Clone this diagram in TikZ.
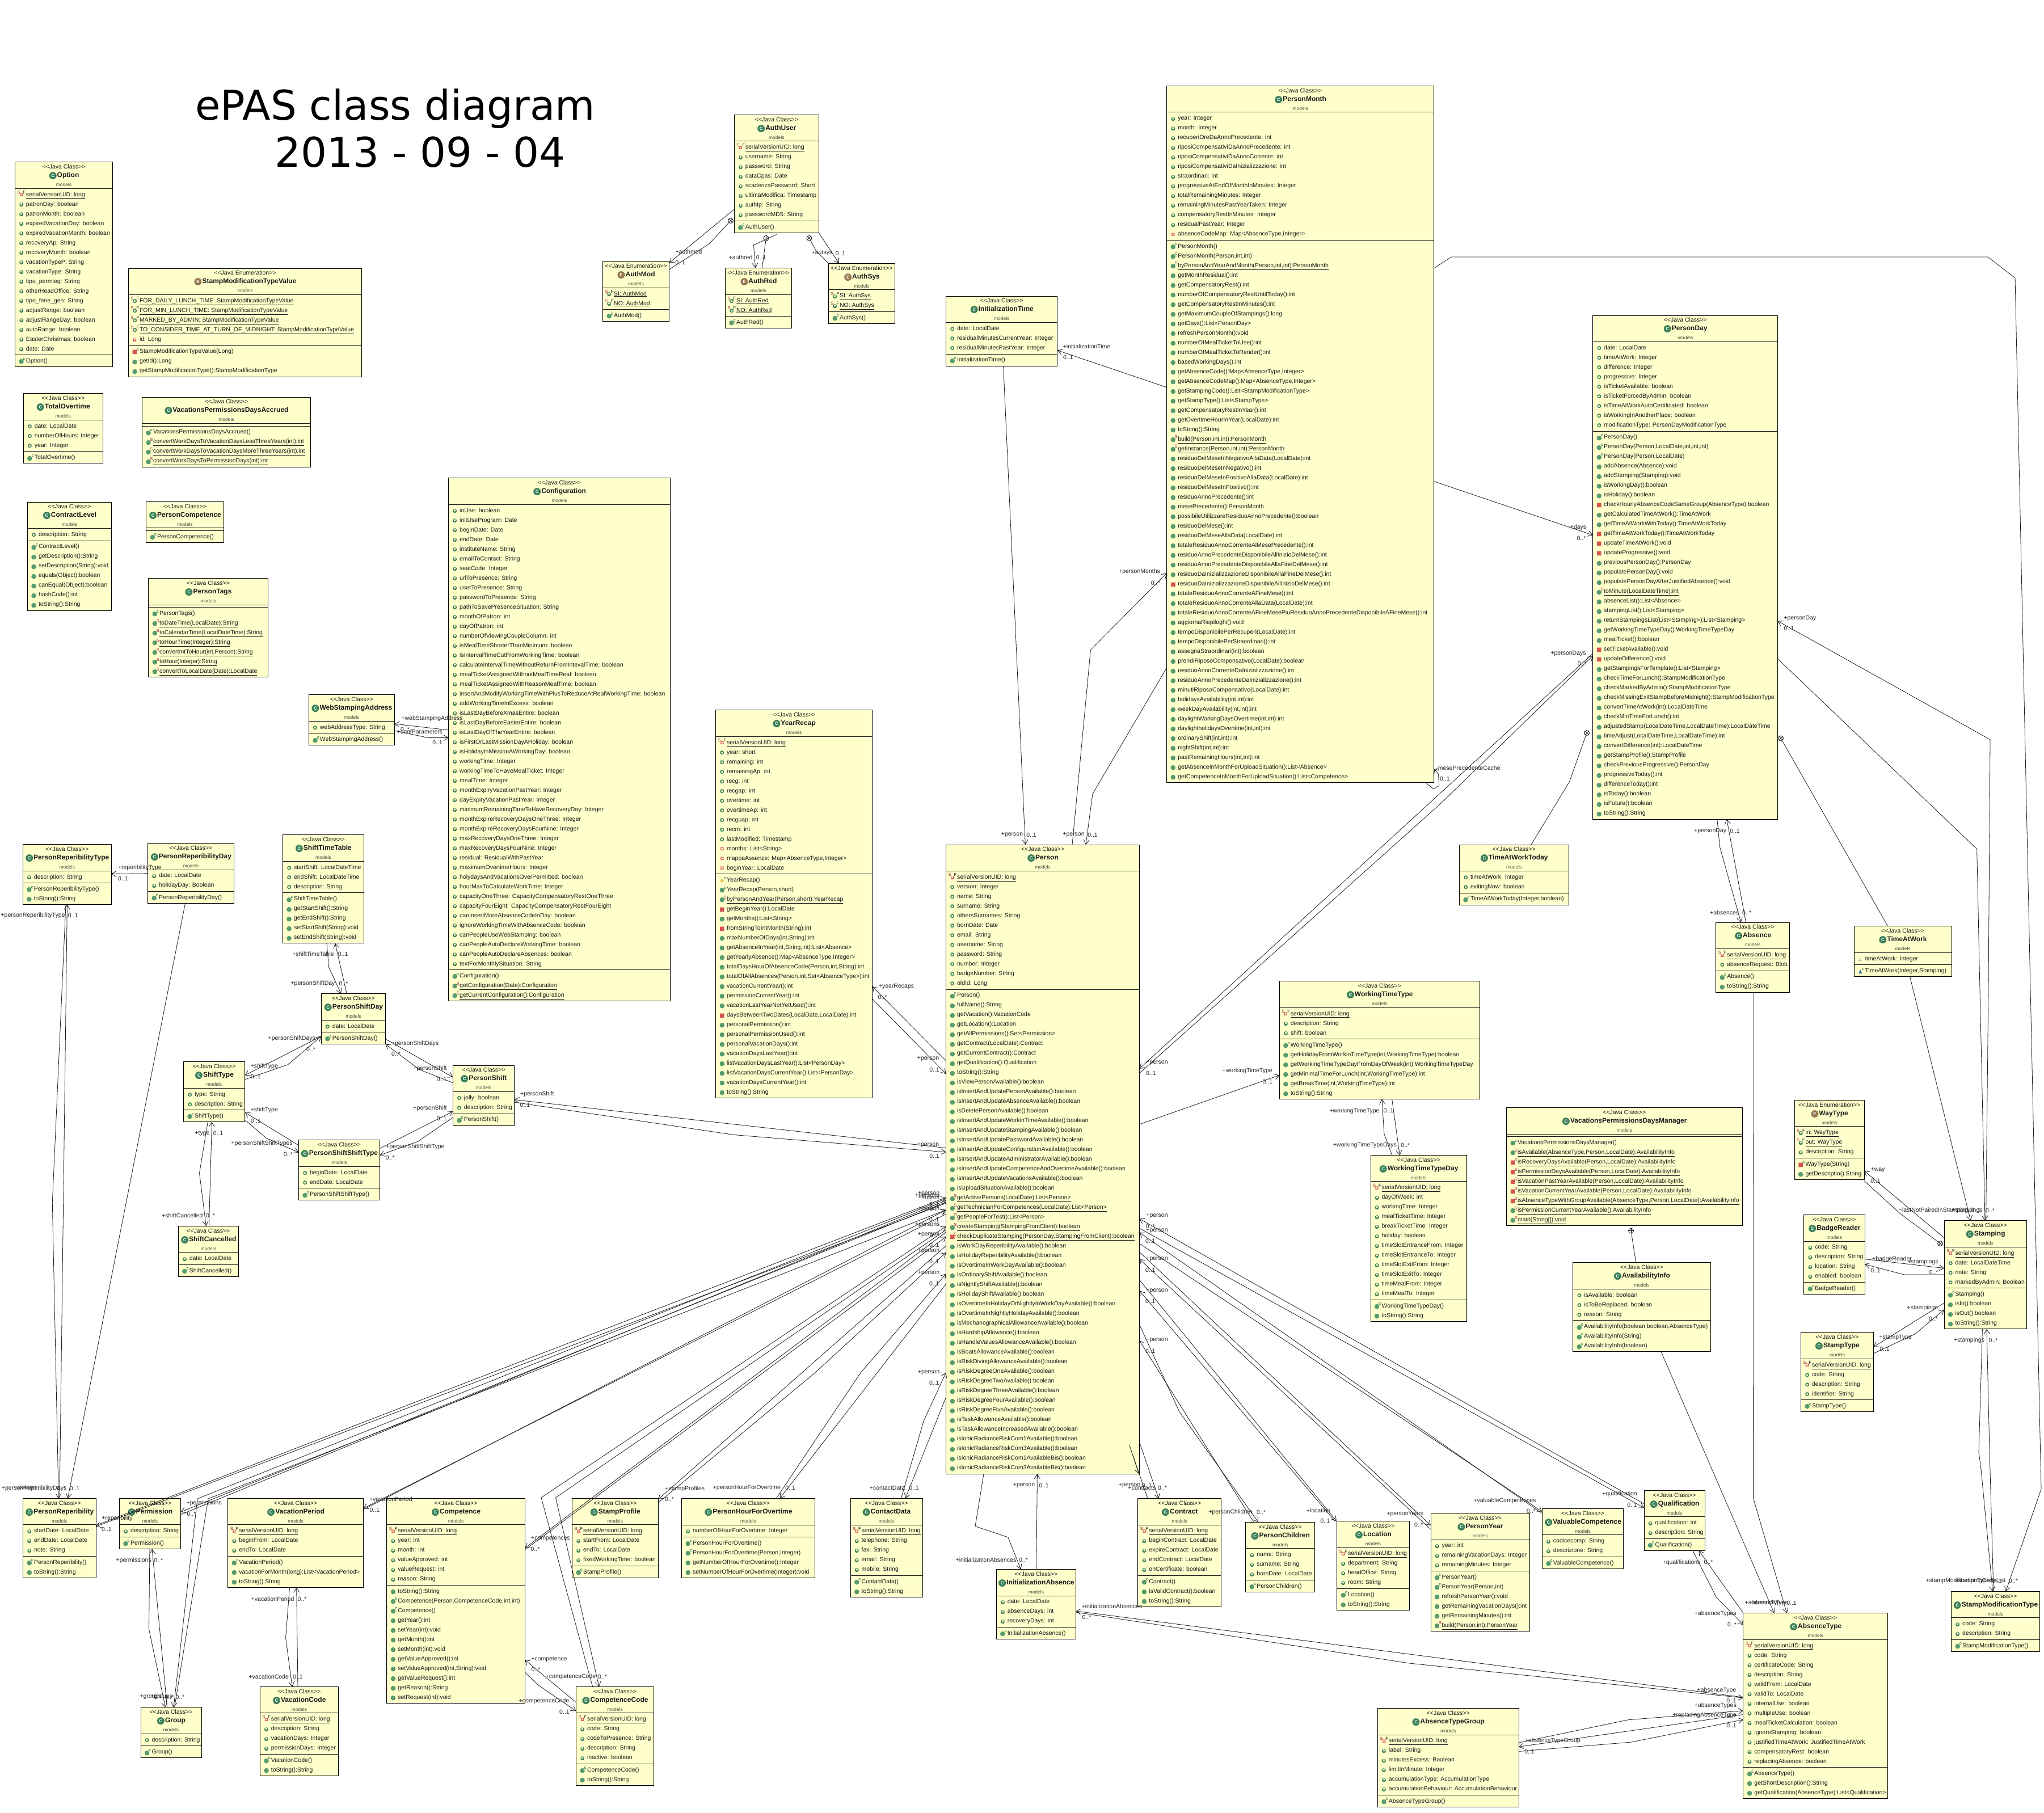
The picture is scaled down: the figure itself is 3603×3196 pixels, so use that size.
\documentclass[tikz,border=0pt]{standalone}
\usepackage{fontspec}
\setmainfont{Liberation Sans}
\newfontfamily\glyphfont{DejaVu Sans}
\newfontfamily\titlefont{DejaVu Sans}
\usetikzlibrary{%
	arrows.meta,%
}
\definecolor{cbox}{RGB}{255, 255, 204}
\definecolor{cfield}{RGB}{58, 128, 88}
\definecolor{cmethod}{RGB}{88, 156, 110}
\definecolor{cprivate}{RGB}{214, 84, 84}
\definecolor{cstatic}{RGB}{150, 30, 60}
\definecolor{cprot}{RGB}{232, 200, 90}
\definecolor{cpack}{RGB}{60, 110, 170}
\definecolor{cenum}{RGB}{150, 118, 78}
\definecolor{cmodels}{RGB}{70, 70, 60}
\tikzset{
	>={Straight Barb[length=8pt,width=10pt]},%
	classnode/.style={%
			fill=cbox,%
			rectangle,%
			draw,%
			line width=1pt,%
			anchor=north west,%
			inner sep=0,%
			outer sep=0,%
			text=black!90,%
			font={\fontsize{10.5}{17}\selectfont}},%
	link/.style={line width=.8pt, black!90},%
	rolelabel/.style={%
			inner sep=0,%
			text=black!85,%
			font={\fontsize{10.5}{12}\selectfont}},%
	nestmark/.style={%
			circle,%
			draw,%
			line width=.8pt,%
			inner sep=0,%
			minimum size=9pt,%
			path picture={\draw[line width=.7pt]
				(path picture bounding box.north west) -- (path picture bounding box.south east)
				(path picture bounding box.north east) -- (path picture bounding box.south west);}},%
	nestplus/.style={%
			circle,%
			draw,%
			line width=.8pt,%
			inner sep=0,%
			minimum size=9pt,%
			path picture={\draw[line width=.7pt]
				(path picture bounding box.north) -- (path picture bounding box.south)
				(path picture bounding box.east) -- (path picture bounding box.west);}},%
}
\setlength{\arrayrulewidth}{1pt}
\newcommand{\symb}[3]{\raisebox{#2}{\glyphfont\fontsize{#1}{#1}\selectfont #3}}
\newcommand{\gring}{\makebox[0pt]{\symb{9}{-.5pt}{\textcolor{cfield}{●}}}\makebox[0pt]{\symb{4.5}{1.1pt}{\textcolor{cbox}{●}}}}
\newcommand{\gdot}{\symb{11}{-1.3pt}{\textcolor{cmethod}{●}}}
\newcommand{\gbox}{\makebox[0pt]{\symb{7}{.3pt}{\textcolor{cprivate}{■}}}\makebox[0pt]{\symb{3.5}{1.5pt}{\textcolor{cbox}{■}}}}
\newcommand{\gsquare}{\symb{10}{-1pt}{\textcolor{cprivate}{■}}}
\newcommand{\gdiamond}{\symb{10}{-1pt}{\textcolor{cprot}{◆}}}
\newcommand{\gtri}{\symb{7}{0pt}{\textcolor{cpack}{△}}}
\newcommand{\gtrifill}{\symb{9}{-.5pt}{\textcolor{cpack}{▲}}}
\newcommand{\rowmark}[3]{\makebox[19.5pt][l]{%
		\rlap{\hspace{11.2pt}\makebox[0pt]{#1}}%
		\rlap{\hspace{6.5pt}\raisebox{4.5pt}{\makebox[0pt]{\fontsize{7.5}{7.5}\selectfont\textcolor{cstatic}{#2}}}}%
		\rlap{\hspace{16.3pt}\raisebox{4.5pt}{\makebox[0pt]{\fontsize{7.5}{7.5}\selectfont #3}}}}}
\newcommand{\fpub}[1]{\mbox{\rowmark{\gring}{}{}#1}\\}
\newcommand{\fpriv}[1]{\mbox{\rowmark{\gbox}{}{}#1}\\}
\newcommand{\fpack}[1]{\mbox{\rowmark{\gtri}{}{}#1}\\}
\newcommand{\fserial}[1]{\mbox{\rowmark{\gbox}{S}{F}\underline{#1}}\\}
\newcommand{\fconst}[1]{\mbox{\rowmark{\gring}{S}{F}\underline{#1}}\\}
\newcommand{\mpub}[1]{\mbox{\rowmark{\gdot}{}{}#1}\\}
\newcommand{\mpriv}[1]{\mbox{\rowmark{\gsquare}{}{}#1}\\}
\newcommand{\mctor}[1]{\mbox{\rowmark{\gdot}{}{\textcolor{cfield}{\bfseries c}}#1}\\}
\newcommand{\mctorpriv}[1]{\mbox{\rowmark{\gsquare}{}{\textcolor{cfield}{\bfseries c}}#1}\\}
\newcommand{\mctorprot}[1]{\mbox{\rowmark{\gdiamond}{}{\textcolor{cfield}{\bfseries c}}#1}\\}
\newcommand{\mctorpack}[1]{\mbox{\rowmark{\gtrifill}{}{\textcolor{cfield}{\bfseries c}}#1}\\}
\newcommand{\mstat}[1]{\mbox{\rowmark{\gdot}{}{\textcolor{cstatic}{S}}\underline{#1}}\\}
\newcommand{\mstatpriv}[1]{\mbox{\rowmark{\gsquare}{}{\textcolor{cstatic}{S}}\underline{#1}}\\}
\newcommand{\headicon}[2]{\makebox[15pt]{\makebox[0pt]{\raisebox{-2pt}{\glyphfont\fontsize{17}{17}\selectfont\textcolor{#1}{●}}}\makebox[0pt]{\fontsize{8}{8}\selectfont\bfseries\textcolor{white}{#2}}}}
\newcommand{\headrows}[4]{%
	\multicolumn{1}{@{}c@{}}{\makebox[0pt]{<{}<Java #1>{}>}}\\[-2pt]
	\multicolumn{1}{@{}c@{}}{\makebox[0pt]{\headicon{#2}{#3}\fontsize{12}{17}\selectfont\textbf{#4}}}\\[-1pt]
	\multicolumn{1}{@{}c@{}}{\makebox[0pt]{\fontsize{8.5}{17}\selectfont\textcolor{cmodels}{models}}}\\[-2pt]}
\newcommand{\javaclass}[1]{\headrows{Class}{cfield}{C}{#1}\hline\noalign{\vskip 1.5pt}}
\newcommand{\javaenum}[1]{\headrows{Enumeration}{cenum}{E}{#1}\hline\noalign{\vskip 1.5pt}}
\newcommand{\secrule}{\noalign{\vskip 2pt}\hline\noalign{\vskip 1.5pt}}
\newcommand{\lastrow}{\noalign{\vskip 2pt}}
\begin{document}
\begin{tikzpicture}[x=1pt, y=-1pt]%
	\useasboundingbox (0,0) rectangle (3603,3196);

	\node[inner sep=0, anchor=base west, font={\titlefont\fontsize{72.3}{80}\selectfont}] (title) at (344,211.6) {ePAS class diagram};
	\node[inner sep=0, anchor=base west, font={\titlefont\fontsize{72.3}{80}\selectfont}] (titledate) at (484,294.5) {2013 - 09 - 04};

	% left column
	\node[classnode] (option) at (26.5,285.6) {\begin{tabular}{@{}p{172pt}@{}}
			\javaclass{Option}
			\fserial{serialVersionUID: long}
			\fpub{patronDay: boolean}
			\fpub{patronMonth: boolean}
			\fpub{expiredVacationDay: boolean}
			\fpub{expiredVacationMonth: boolean}
			\fpub{recoveryAp: String}
			\fpub{recoveryMonth: boolean}
			\fpub{vacationTypeP: String}
			\fpub{vacationType: String}
			\fpub{tipo\_permieg: String}
			\fpub{otherHeadOffice: String}
			\fpub{tipo\_ferie\_gen: String}
			\fpub{adjustRange: boolean}
			\fpub{adjustRangeDay: boolean}
			\fpub{autoRange: boolean}
			\fpub{EasterChristmas: boolean}
			\fpub{date: Date}
			\secrule
			\mctor{Option()}
			\lastrow
		\end{tabular}};

	\node[classnode] (stampvalue) at (226.5,473) {\begin{tabular}{@{}p{411pt}@{}}
			\javaenum{StampModificationTypeValue}
			\fconst{FOR\_DAILY\_LUNCH\_TIME: StampModificationTypeValue}
			\fconst{FOR\_MIN\_LUNCH\_TIME: StampModificationTypeValue}
			\fconst{MARKED\_BY\_ADMIN: StampModificationTypeValue}
			\fconst{TO\_CONSIDER\_TIME\_AT\_TURN\_OF\_MIDNIGHT: StampModificationTypeValue}
			\fpriv{id: Long}
			\secrule
			\mctorpriv{StampModificationTypeValue(Long)}
			\mpub{getId():Long}
			\mpub{getStampModificationType():StampModificationType}
			\lastrow
		\end{tabular}};

	\node[classnode] (totalovertime) at (41.3,693.8) {\begin{tabular}{@{}p{140pt}@{}}
			\javaclass{TotalOvertime}
			\fpub{date: LocalDate}
			\fpub{numberOfHours: Integer}
			\fpub{year: Integer}
			\secrule
			\mctor{TotalOvertime()}
			\lastrow
		\end{tabular}};

	\node[classnode] (daysaccrued) at (250.5,700) {\begin{tabular}{@{}p{297pt}@{}}
			\javaclass{VacationsPermissionsDaysAccrued}
			\secrule
			\mctor{VacationsPermissionsDaysAccrued()}
			\mstat{convertWorkDaysToVacationDaysLessThreeYears(int):int}
			\mstat{convertWorkDaysToVacationDaysMoreThreeYears(int):int}
			\mstat{convertWorkDaysToPermissionDays(int):int}
			\lastrow
		\end{tabular}};

	\node[classnode] (contractlevel) at (48.5,885) {\begin{tabular}{@{}p{148pt}@{}}
			\javaclass{ContractLevel}
			\fpub{description: String}
			\secrule
			\mctor{ContractLevel()}
			\mpub{getDescription():String}
			\mpub{setDescription(String):void}
			\mpub{equals(Object):boolean}
			\mpub{canEqual(Object):boolean}
			\mpub{hashCode():int}
			\mpub{toString():String}
			\lastrow
		\end{tabular}};

	\node[classnode] (personcompetence) at (257.7,884.4) {\begin{tabular}{@{}p{136.7pt}@{}}
			\javaclass{PersonCompetence}
			\secrule
			\mctor{PersonCompetence()}
			\lastrow
		\end{tabular}};

	\node[classnode] (persontags) at (261.7,1019.6) {\begin{tabular}{@{}p{210.7pt}@{}}
			\javaclass{PersonTags}
			\secrule
			\mctor{PersonTags()}
			\mstat{toDateTime(LocalDate):String}
			\mstat{toCalendarTime(LocalDateTime):String}
			\mstat{toHourTime(Integer):String}
			\mstat{convertIntToHour(int,Person):String}
			\mstat{toHour(Integer):String}
			\mstat{convertToLocalDate(Date):LocalDate}
			\lastrow
		\end{tabular}};

	\node[classnode] (webstamping) at (544.4,1224.9) {\begin{tabular}{@{}p{151pt}@{}}
			\javaclass{WebStampingAddress}
			\fpub{webAddressType: String}
			\secrule
			\mctor{WebStampingAddress()}
			\lastrow
		\end{tabular}};

	\node[classnode] (configuration) at (790.7,842.6) {\begin{tabular}{@{}p{390.8pt}@{}}
			\javaclass{Configuration}
			\fpub{inUse: boolean}
			\fpub{initUseProgram: Date}
			\fpub{beginDate: Date}
			\fpub{endDate: Date}
			\fpub{instituteName: String}
			\fpub{emailToContact: String}
			\fpub{seatCode: Integer}
			\fpub{urlToPresence: String}
			\fpub{userToPresence: String}
			\fpub{passwordToPresence: String}
			\fpub{pathToSavePresenceSituation: String}
			\fpub{monthOfPatron: int}
			\fpub{dayOfPatron: int}
			\fpub{numberOfViewingCoupleColumn: int}
			\fpub{isMealTimeShorterThanMinimum: boolean}
			\fpub{isIntervalTimeCutFromWorkingTime: boolean}
			\fpub{calculateIntervalTimeWithoutReturnFromIntevalTime: boolean}
			\fpub{mealTicketAssignedWithoutMealTimeReal: boolean}
			\fpub{mealTicketAssignedWithReasonMealTime: boolean}
			\fpub{insertAndModifyWorkingTimeWithPlusToReduceAtRealWorkingTime: boolean}
			\fpub{addWorkingTimeInExcess: boolean}
			\fpub{isLastDayBeforeXmasEntire: boolean}
			\fpub{isLastDayBeforeEasterEntire: boolean}
			\fpub{isLastDayOfTheYearEntire: boolean}
			\fpub{isFirstOrLastMissionDayAHoliday: boolean}
			\fpub{isHolidayInMissionAWorkingDay: boolean}
			\fpub{workingTime: Integer}
			\fpub{workingTimeToHaveMealTicket: Integer}
			\fpub{mealTime: Integer}
			\fpub{monthExpiryVacationPastYear: Integer}
			\fpub{dayExpiryVacationPastYear: Integer}
			\fpub{minimumRemainingTimeToHaveRecoveryDay: Integer}
			\fpub{monthExpireRecoveryDaysOneThree: Integer}
			\fpub{monthExpireRecoveryDaysFourNine: Integer}
			\fpub{maxRecoveryDaysOneThree: Integer}
			\fpub{maxRecoveryDaysFourNine: Integer}
			\fpub{residual: ResidualWithPastYear}
			\fpub{maximumOvertimeHours: Integer}
			\fpub{holydaysAndVacationsOverPermitted: boolean}
			\fpub{hourMaxToCalculateWorkTime: Integer}
			\fpub{capacityOneThree: CapacityCompensatoryRestOneThree}
			\fpub{capacityFourEight: CapacityCompensatoryRestFourEight}
			\fpub{canInsertMoreAbsenceCodeInDay: boolean}
			\fpub{ignoreWorkingTimeWithAbsenceCode: boolean}
			\fpub{canPeopleUseWebStamping: boolean}
			\fpub{canPeopleAutoDeclareWorkingTime: boolean}
			\fpub{canPeopleAutoDeclareAbsences: boolean}
			\fpub{textForMonthlySituation: String}
			\secrule
			\mctor{Configuration()}
			\mstat{getConfiguration(Date):Configuration}
			\mstat{getCurrentConfiguration():Configuration}
			\lastrow
		\end{tabular}};

	% auth group
	\node[classnode] (authuser) at (1294.3,202.3) {\begin{tabular}{@{}p{149pt}@{}}
			\javaclass{AuthUser}
			\fserial{serialVersionUID: long}
			\fpub{username: String}
			\fpub{password: String}
			\fpub{dataCpas: Date}
			\fpub{scadenzaPassword: Short}
			\fpub{ultimaModifica: Timestamp}
			\fpub{authIp: String}
			\fpub{passwordMD5: String}
			\secrule
			\mctor{AuthUser()}
			\lastrow
		\end{tabular}};

	\node[classnode] (authmod) at (1062.7,460.6) {\begin{tabular}{@{}p{116.8pt}@{}}
			\javaenum{AuthMod}
			\fconst{SI: AuthMod}
			\fconst{NO: AuthMod}
			\secrule
			\mctor{AuthMod()}
			\lastrow
		\end{tabular}};

	\node[classnode] (authred) at (1278.5,472.7) {\begin{tabular}{@{}p{116.8pt}@{}}
			\javaenum{AuthRed}
			\fconst{SI: AuthRed}
			\fconst{NO: AuthRed}
			\secrule
			\mctor{AuthRed()}
			\lastrow
		\end{tabular}};

	\node[classnode] (authsys) at (1460.6,464.4) {\begin{tabular}{@{}p{116.8pt}@{}}
			\javaenum{AuthSys}
			\fconst{SI: AuthSys}
			\fconst{NO: AuthSys}
			\secrule
			\mctor{AuthSys()}
			\lastrow
		\end{tabular}};

	\node[classnode] (initializationtime) at (1667.6,522) {\begin{tabular}{@{}p{196.3pt}@{}}
			\javaclass{InitializationTime}
			\fpub{date: LocalDate}
			\fpub{residualMinutesCurrentYear: Integer}
			\fpub{residualMinutesPastYear: Integer}
			\secrule
			\mctor{InitializationTime()}
			\lastrow
		\end{tabular}};

	\node[classnode] (personmonth) at (2056.8,151.4) {\begin{tabular}{@{}p{470.7pt}@{}}
			\javaclass{PersonMonth}
			\fpub{year: Integer}
			\fpub{month: Integer}
			\fpub{recuperiOreDaAnnoPrecedente: int}
			\fpub{riposiCompensativiDaAnnoPrecedente: int}
			\fpub{riposiCompensativiDaAnnoCorrente: int}
			\fpub{riposiCompensativiDaInizializzazione: int}
			\fpub{straordinari: int}
			\fpub{progressiveAtEndOfMonthInMinutes: Integer}
			\fpub{totalRemainingMinutes: Integer}
			\fpub{remainingMinutesPastYearTaken: Integer}
			\fpub{compensatoryRestInMinutes: Integer}
			\fpub{residualPastYear: Integer}
			\fpriv{absenceCodeMap: Map<AbsenceType,Integer>}
			\secrule
			\mctor{PersonMonth()}
			\mctor{PersonMonth(Person,int,int)}
			\mstat{byPersonAndYearAndMonth(Person,int,int):PersonMonth}
			\mpub{getMonthResidual():int}
			\mpub{getCompensatoryRest():int}
			\mpub{numberOfCompensatoryRestUntilToday():int}
			\mpub{getCompensatoryRestInMinutes():int}
			\mpub{getMaximumCoupleOfStampings():long}
			\mpub{getDays():List<PersonDay>}
			\mpub{refreshPersonMonth():void}
			\mpub{numberOfMealTicketToUse():int}
			\mpub{numberOfMealTicketToRender():int}
			\mpub{basedWorkingDays():int}
			\mpub{getAbsenceCode():Map<AbsenceType,Integer>}
			\mpub{getAbsenceCodeMap():Map<AbsenceType,Integer>}
			\mpub{getStampingCode():List<StampModificationType>}
			\mpub{getStampType():List<StampType>}
			\mpub{getCompensatoryRestInYear():int}
			\mpub{getOvertimeHourInYear(LocalDate):int}
			\mpub{toString():String}
			\mstat{build(Person,int,int):PersonMonth}
			\mstat{getInstance(Person,int,int):PersonMonth}
			\mpub{residuoDelMeseInNegativoAllaData(LocalDate):int}
			\mpub{residuoDelMeseInNegativo():int}
			\mpub{residuoDelMeseInPositivoAllaData(LocalDate):int}
			\mpub{residuoDelMeseInPositivo():int}
			\mpub{residuoAnnoPrecedente():int}
			\mpub{mesePrecedente():PersonMonth}
			\mpub{possibileUtilizzareResiduoAnnoPrecedente():boolean}
			\mpub{residuoDelMese():int}
			\mpub{residuoDelMeseAllaData(LocalDate):int}
			\mpub{totaleResiduoAnnoCorrenteAlMesePrecedente():int}
			\mpub{residuoAnnoPrecedenteDisponibileAllInizioDelMese():int}
			\mpub{residuoAnnoPrecedenteDisponibileAllaFineDelMese():int}
			\mpub{residuoDaInizializzazioneDisponibileAllaFineDelMese():int}
			\mpriv{residuoDaInizializzazioneDisponibileAllInizioDelMese():int}
			\mpub{totaleResiduoAnnoCorrenteAFineMese():int}
			\mpub{totaleResiduoAnnoCorrenteAllaData(LocalDate):int}
			\mpub{totaleResiduoAnnoCorrenteAFineMesePiuResiduoAnnoPrecedenteDisponibileAFineMese():int}
			\mpub{aggiornaRiepiloghi():void}
			\mpub{tempoDisponibilePerRecuperi(LocalDate):int}
			\mpub{tempoDisponibilePerStraordinari():int}
			\mpub{assegnaStraordinari(int):boolean}
			\mpub{prendiRiposoCompensativo(LocalDate):boolean}
			\mpub{residuoAnnoCorrenteDaInizializzazione():int}
			\mpub{residuoAnnoPrecedenteDaInizializzazione():int}
			\mpub{minutiRiposoCompensativo(LocalDate):int}
			\mpub{holidaysAvailability(int,int):int}
			\mpub{weekDayAvailability(int,int):int}
			\mpub{daylightWorkingDaysOvertime(int,int):int}
			\mpub{daylightholidaysOvertime(int,int):int}
			\mpub{ordinaryShift(int,int):int}
			\mpub{nightShift(int,int):int}
			\mpub{pastRemainingHours(int,int):int}
			\mpub{getAbsenceInMonthForUploadSituation():List<Absence>}
			\mpub{getCompetenceInMonthForUploadSituation():List<Competence>}
			\lastrow
		\end{tabular}};

	\node[classnode] (personday) at (2807.7,556) {\begin{tabular}{@{}p{325.9pt}@{}}
			\javaclass{PersonDay}
			\fpub{date: LocalDate}
			\fpub{timeAtWork: Integer}
			\fpub{difference: Integer}
			\fpub{progressive: Integer}
			\fpub{isTicketAvailable: boolean}
			\fpub{isTicketForcedByAdmin: boolean}
			\fpub{isTimeAtWorkAutoCertificated: boolean}
			\fpub{isWorkingInAnotherPlace: boolean}
			\fpub{modificationType: PersonDayModificationType}
			\secrule
			\mctor{PersonDay()}
			\mctor{PersonDay(Person,LocalDate,int,int,int)}
			\mctor{PersonDay(Person,LocalDate)}
			\mpub{addAbsence(Absence):void}
			\mpub{addStamping(Stamping):void}
			\mpub{isWorkingDay():boolean}
			\mpub{isHoliday():boolean}
			\mpriv{checkHourlyAbsenceCodeSameGroup(AbsenceType):boolean}
			\mpub{getCalculatedTimeAtWork():TimeAtWork}
			\mpub{getTimeAtWorkWithToday():TimeAtWorkToday}
			\mpriv{getTimeAtWorkToday():TimeAtWorkToday}
			\mpriv{updateTimeAtWork():void}
			\mpriv{updateProgressive():void}
			\mpub{previousPersonDay():PersonDay}
			\mpub{populatePersonDay():void}
			\mpub{populatePersonDayAfterJustifiedAbsence():void}
			\mstat{toMinute(LocalDateTime):int}
			\mpub{absenceList():List<Absence>}
			\mpub{stampingList():List<Stamping>}
			\mpub{returnStampingsList(List<Stamping>):List<Stamping>}
			\mpub{getWorkingTimeTypeDay():WorkingTimeTypeDay}
			\mpub{mealTicket():boolean}
			\mpriv{setTicketAvailable():void}
			\mpriv{updateDifference():void}
			\mpub{getStampingsForTemplate():List<Stamping>}
			\mpub{checkTimeForLunch():StampModificationType}
			\mpub{checkMarkedByAdmin():StampModificationType}
			\mpub{checkMissingExitStampBeforeMidnight():StampModificationType}
			\mpub{convertTimeAtWork(int):LocalDateTime}
			\mpub{checkMinTimeForLunch():int}
			\mpub{adjustedStamp(LocalDateTime,LocalDateTime):LocalDateTime}
			\mpub{timeAdjust(LocalDateTime,LocalDateTime):int}
			\mpub{convertDifference(int):LocalDateTime}
			\mpub{getStampProfile():StampProfile}
			\mpub{checkPreviousProgressive():PersonDay}
			\mpub{progressiveToday():int}
			\mpub{differenceToday():int}
			\mpub{isToday():boolean}
			\mpub{isFuture():boolean}
			\mpub{toString():String}
			\lastrow
		\end{tabular}};

	\node[classnode] (timeatworktoday) at (2572.5,1489) {\begin{tabular}{@{}p{192.5pt}@{}}
			\javaclass{TimeAtWorkToday}
			\fpub{timeAtWork: Integer}
			\fpub{exitingNow: boolean}
			\secrule
			\mctor{TimeAtWorkToday(Integer,boolean)}
			\lastrow
		\end{tabular}};

	\node[classnode] (absence) at (3024.8,1626) {\begin{tabular}{@{}p{129.8pt}@{}}
			\javaclass{Absence}
			\fserial{serialVersionUID: long}
			\fpub{absenceRequest: Blob}
			\secrule
			\mctor{Absence()}
			\mpub{toString():String}
			\lastrow
		\end{tabular}};

	\node[classnode] (timeatwork) at (3268,1632.8) {\begin{tabular}{@{}p{172pt}@{}}
			\javaclass{TimeAtWork}
			\fpack{timeAtWork: Integer}
			\secrule
			\mctorpack{TimeAtWork(Integer,Stamping)}
			\lastrow
		\end{tabular}};

	% shifts and reperibility
	\node[classnode] (reperibilitytype) at (40.3,1488.6) {\begin{tabular}{@{}p{156pt}@{}}
			\javaclass{PersonReperibilityType}
			\fpub{description: String}
			\secrule
			\mctor{PersonReperibilityType()}
			\mpub{toString():String}
			\lastrow
		\end{tabular}};

	\node[classnode] (reperibilityday) at (260.7,1486.5) {\begin{tabular}{@{}p{151.5pt}@{}}
			\javaclass{PersonReperibilityDay}
			\fpub{date: LocalDate}
			\fpub{holidayDay: Boolean}
			\secrule
			\mctor{PersonReperibilityDay()}
			\lastrow
		\end{tabular}};

	\node[classnode] (shifttimetable) at (498.5,1471.8) {\begin{tabular}{@{}p{142.8pt}@{}}
			\javaclass{ShiftTimeTable}
			\fpub{startShift: LocalDateTime}
			\fpub{endShift: LocalDateTime}
			\fpub{description: String}
			\secrule
			\mctor{ShiftTimeTable()}
			\mpub{getStartShift():String}
			\mpub{getEndShift():String}
			\mpub{setStartShift(String):void}
			\mpub{setEndShift(String):void}
			\lastrow
		\end{tabular}};

	\node[classnode] (personshiftday) at (566.3,1751.7) {\begin{tabular}{@{}p{113.3pt}@{}}
			\javaclass{PersonShiftDay}
			\fpub{date: LocalDate}
			\secrule
			\mctor{PersonShiftDay()}
			\lastrow
		\end{tabular}};

	\node[classnode] (shifttype) at (323.5,1871.7) {\begin{tabular}{@{}p{108.1pt}@{}}
			\javaclass{ShiftType}
			\fpub{type: String}
			\fpub{description: String}
			\secrule
			\mctor{ShiftType()}
			\lastrow
		\end{tabular}};

	\node[classnode] (shiftshifttype) at (526.5,2009.9) {\begin{tabular}{@{}p{142.9pt}@{}}
			\javaclass{PersonShiftShiftType}
			\fpub{beginDate: LocalDate}
			\fpub{endDate: LocalDate}
			\secrule
			\mctor{PersonShiftShiftType()}
			\lastrow
		\end{tabular}};

	\node[classnode] (shiftcancelled) at (314.3,2161.4) {\begin{tabular}{@{}p{106.1pt}@{}}
			\javaclass{ShiftCancelled}
			\fpub{date: LocalDate}
			\secrule
			\mctor{ShiftCancelled()}
			\lastrow
		\end{tabular}};

	\node[classnode] (personshift) at (798.4,1878) {\begin{tabular}{@{}p{108.1pt}@{}}
			\javaclass{PersonShift}
			\fpub{jolly: boolean}
			\fpub{description: String}
			\secrule
			\mctor{PersonShift()}
			\lastrow
		\end{tabular}};

	\node[classnode] (yearrecap) at (1261.6,1251.7) {\begin{tabular}{@{}p{276.1pt}@{}}
			\javaclass{YearRecap}
			\fserial{serialVersionUID: long}
			\fpub{year: short}
			\fpub{remaining: int}
			\fpub{remainingAp: int}
			\fpub{recg: int}
			\fpub{recgap: int}
			\fpub{overtime: int}
			\fpub{overtimeAp: int}
			\fpub{recguap: int}
			\fpub{recm: int}
			\fpub{lastModified: Timestamp}
			\fpriv{months: List<String>}
			\fpriv{mappaAssenze: Map<AbsenceType,Integer>}
			\fpriv{beginYear: LocalDate}
			\secrule
			\mctorprot{YearRecap()}
			\mctor{YearRecap(Person,short)}
			\mstat{byPersonAndYear(Person,short):YearRecap}
			\mpriv{getBeginYear():LocalDate}
			\mpub{getMonths():List<String>}
			\mpriv{fromStringToIntMonth(String):int}
			\mpub{maxNumberOfDays(int,String):int}
			\mpub{getAbsenceInYear(int,String,int):List<Absence>}
			\mpub{getYearlyAbsence():Map<AbsenceType,Integer>}
			\mpub{totalDaysHourOfAbsenceCode(Person,int,String):int}
			\mpub{totalOfAllAbsences(Person,int,Set<AbsenceType>):int}
			\mpub{vacationCurrentYear():int}
			\mpub{permissionCurrentYear():int}
			\mpub{vacationLastYearNotYetUsed():int}
			\mpriv{daysBetweenTwoDates(LocalDate,LocalDate):int}
			\mpub{personalPermission():int}
			\mpub{personalPermissionUsed():int}
			\mpub{personalVacationDays():int}
			\mpub{vacationDaysLastYear():int}
			\mpub{listVacationDaysLastYear():List<PersonDay>}
			\mpub{listVacationDaysCurrentYear():List<PersonDay>}
			\mpub{vacationDaysCurrentYear():int}
			\mpub{toString():String}
			\lastrow
		\end{tabular}};

	% person
	\node[classnode] (person) at (1667.6,1489) {\begin{tabular}{@{}p{340.8pt}@{}}
			\javaclass{Person}
			\fserial{serialVersionUID: long}
			\fpub{version: Integer}
			\fpub{name: String}
			\fpub{surname: String}
			\fpub{othersSurnames: String}
			\fpub{bornDate: Date}
			\fpub{email: String}
			\fpub{username: String}
			\fpub{password: String}
			\fpub{number: Integer}
			\fpub{badgeNumber: String}
			\fpub{oldId: Long}
			\secrule
			\mctor{Person()}
			\mpub{fullName():String}
			\mpub{getVacation():VacationCode}
			\mpub{getLocation():Location}
			\mpub{getAllPermissions():Set<Permission>}
			\mpub{getContract(LocalDate):Contract}
			\mpub{getCurrentContract():Contract}
			\mpub{getQualification():Qualification}
			\mpub{toString():String}
			\mpub{isViewPersonAvailable():boolean}
			\mpub{isInsertAndUpdatePersonAvailable():boolean}
			\mpub{isInsertAndUpdateAbsenceAvailable():boolean}
			\mpub{isDeletePersonAvailable():boolean}
			\mpub{isInsertAndUpdateWorkinTimeAvailable():boolean}
			\mpub{isInsertAndUpdateStampingAvailable():boolean}
			\mpub{isInsertAndUpdatePasswordAvailable():boolean}
			\mpub{isInsertAndUpdateConfigurationAvailable():boolean}
			\mpub{isInsertAndUpdateAdministratorAvailable():boolean}
			\mpub{isInsertAndUpdateCompetenceAndOvertimeAvailable():boolean}
			\mpub{isInsertAndUpdateVacationsAvailable():boolean}
			\mpub{isUploadSituationAvailable():boolean}
			\mstat{getActivePersons(LocalDate):List<Person>}
			\mstat{getTechnicianForCompetences(LocalDate):List<Person>}
			\mstat{getPeopleForTest():List<Person>}
			\mstat{createStamping(StampingFromClient):boolean}
			\mstatpriv{checkDuplicateStamping(PersonDay,StampingFromClient):boolean}
			\mpub{isWorkDayReperibilityAvailable():boolean}
			\mpub{isHolidayReperibilityAvailable():boolean}
			\mpub{isOvertimeInWorkDayAvailable():boolean}
			\mpub{isOrdinaryShiftAvailable():boolean}
			\mpub{isNightlyShiftAvailable():boolean}
			\mpub{isHolidayShiftAvailable():boolean}
			\mpub{isOvertimeInHolidayOrNightlyInWorkDayAvailable():boolean}
			\mpub{isOvertimeInNightlyHolidayAvailable():boolean}
			\mpub{isMechanographicalAllowanceAvailable():boolean}
			\mpub{isHardshipAllowance():boolean}
			\mpub{isHandleValuesAllowanceAvailable():boolean}
			\mpub{isBoatsAllowanceAvailable():boolean}
			\mpub{isRiskDivingAllowanceAvailable():boolean}
			\mpub{isRiskDegreeOneAvailable():boolean}
			\mpub{isRiskDegreeTwoAvailable():boolean}
			\mpub{isRiskDegreeThreeAvailable():boolean}
			\mpub{isRiskDegreeFourAvailable():boolean}
			\mpub{isRiskDegreeFiveAvailable():boolean}
			\mpub{isTaskAllowanceAvailable():boolean}
			\mpub{isTaskAllowanceIncreasedAvailable():boolean}
			\mpub{isIonicRadianceRiskCom1Available():boolean}
			\mpub{isIonicRadianceRiskCom3Available():boolean}
			\mpub{isIonicRadianceRiskCom1AvailableBis():boolean}
			\mpub{isIonicRadianceRiskCom3AvailableBis():boolean}
			\lastrow
		\end{tabular}};

	\node[classnode] (workingtimetype) at (2255.3,1729.6) {\begin{tabular}{@{}p{352.9pt}@{}}
			\javaclass{WorkingTimeType}
			\fserial{serialVersionUID: long}
			\fpub{description: String}
			\fpub{shift: boolean}
			\secrule
			\mctor{WorkingTimeType()}
			\mpub{getHolidayFromWorkinTimeType(int,WorkingTimeType):boolean}
			\mpub{getWorkingTimeTypeDayFromDayOfWeek(int):WorkingTimeTypeDay}
			\mpub{getMinimalTimeForLunch(int,WorkingTimeType):int}
			\mpub{getBreakTime(int,WorkingTimeType):int}
			\mpub{toString():String}
			\lastrow
		\end{tabular}};

	\node[classnode] (workingtimetypeday) at (2416,2036.4) {\begin{tabular}{@{}p{169.2pt}@{}}
			\javaclass{WorkingTimeTypeDay}
			\fserial{serialVersionUID: long}
			\fpub{dayOfWeek: int}
			\fpub{workingTime: Integer}
			\fpub{mealTicketTime: Integer}
			\fpub{breakTicketTime: Integer}
			\fpub{holiday: boolean}
			\fpub{timeSlotEntranceFrom: Integer}
			\fpub{timeSlotEntranceTo: Integer}
			\fpub{timeSlotExitFrom: Integer}
			\fpub{timeSlotExitTo: Integer}
			\fpub{timeMealFrom: Integer}
			\fpub{timeMealTo: Integer}
			\secrule
			\mctor{WorkingTimeTypeDay()}
			\mpub{toString():String}
			\lastrow
		\end{tabular}};

	\node[classnode] (daysmanager) at (2655.6,1952.6) {\begin{tabular}{@{}p{415.4pt}@{}}
			\javaclass{VacationsPermissionsDaysManager}
			\secrule
			\mctor{VacationsPermissionsDaysManager()}
			\mstat{isAvailable(AbsenceType,Person,LocalDate):AvailabilityInfo}
			\mstatpriv{isRecoveryDaysAvailable(Person,LocalDate):AvailabilityInfo}
			\mstatpriv{isPermissionDaysAvailable(Person,LocalDate):AvailabilityInfo}
			\mstatpriv{isVacationPastYearAvailable(Person,LocalDate):AvailabilityInfo}
			\mstatpriv{isVacationCurrentYearAvailable(Person,LocalDate):AvailabilityInfo}
			\mstatpriv{isAbsenceTypeWithGroupAvailable(AbsenceType,Person,LocalDate):AvailabilityInfo}
			\mstat{isPermissionCurrentYearAvailable():AvailabilityInfo}
			\mstat{main(String[]):void}
			\lastrow
		\end{tabular}};

	\node[classnode] (availabilityinfo) at (2772.7,2225.8) {\begin{tabular}{@{}p{242.6pt}@{}}
			\javaclass{AvailabilityInfo}
			\fpub{isAvailable: boolean}
			\fpub{isToBeReplaced: boolean}
			\fpub{reason: String}
			\secrule
			\mctor{AvailabilityInfo(boolean,boolean,AbsenceType)}
			\mctor{AvailabilityInfo(String)}
			\mctor{AvailabilityInfo(boolean)}
			\lastrow
		\end{tabular}};

	\node[classnode] (waytype) at (3163,1939.4) {\begin{tabular}{@{}p{123.2pt}@{}}
			\javaenum{WayType}
			\fconst{in: WayType}
			\fconst{out: WayType}
			\fpub{description: String}
			\secrule
			\mctorpriv{WayType(String)}
			\mpub{getDescriptio():String}
			\lastrow
		\end{tabular}};

	\node[classnode] (badgereader) at (3179.8,2141.5) {\begin{tabular}{@{}p{107.2pt}@{}}
			\javaclass{BadgeReader}
			\fpub{code: String}
			\fpub{description: String}
			\fpub{location: String}
			\fpub{enabled: boolean}
			\secrule
			\mctor{BadgeReader()}
			\lastrow
		\end{tabular}};

	\node[classnode] (stamping) at (3427,2151.8) {\begin{tabular}{@{}p{145.4pt}@{}}
			\javaclass{Stamping}
			\fserial{serialVersionUID: long}
			\fpub{date: LocalDateTime}
			\fpub{note: String}
			\fpub{markedByAdmin: Boolean}
			\secrule
			\mctor{Stamping()}
			\mpub{isIn():boolean}
			\mpub{isOut():boolean}
			\mpub{toString():String}
			\lastrow
		\end{tabular}};

	\node[classnode] (stamptype) at (3174.5,2348.7) {\begin{tabular}{@{}p{127.8pt}@{}}
			\javaclass{StampType}
			\fserial{serialVersionUID: long}
			\fpub{code: String}
			\fpub{description: String}
			\fpub{identifier: String}
			\secrule
			\mctor{StampType()}
			\lastrow
		\end{tabular}};

	% bottom row
	\node[classnode] (reperibility) at (40.6,2641.4) {\begin{tabular}{@{}p{128.4pt}@{}}
			\javaclass{PersonReperibility}
			\fpub{startDate: LocalDate}
			\fpub{endDate: LocalDate}
			\fpub{note: String}
			\secrule
			\mctor{PersonReperibility()}
			\mpub{toString():String}
			\lastrow
		\end{tabular}};

	\node[classnode] (permission) at (210.5,2641.4) {\begin{tabular}{@{}p{107.9pt}@{}}
			\javaclass{Permission}
			\fpub{description: String}
			\secrule
			\mctor{Permission()}
			\lastrow
		\end{tabular}};

	\node[classnode] (vacationperiod) at (401.8,2641.4) {\begin{tabular}{@{}p{238.7pt}@{}}
			\javaclass{VacationPeriod}
			\fserial{serialVersionUID: long}
			\fpub{beginFrom: LocalDate}
			\fpub{endTo: LocalDate}
			\secrule
			\mctor{VacationPeriod()}
			\mpub{vacationForMonth(long):List<VacationPeriod>}
			\mpub{toString():String}
			\lastrow
		\end{tabular}};

	\node[classnode] (competence) at (681.9,2641.4) {\begin{tabular}{@{}p{243.3pt}@{}}
			\javaclass{Competence}
			\fserial{serialVersionUID: long}
			\fpub{year: int}
			\fpub{month: int}
			\fpub{valueApproved: int}
			\fpub{valueRequest: int}
			\fpub{reason: String}
			\secrule
			\mpub{toString():String}
			\mctor{Competence(Person,CompetenceCode,int,int)}
			\mctor{Competence()}
			\mpub{getYear():int}
			\mpub{setYear(int):void}
			\mpub{getMonth():int}
			\mpub{setMonth(int):void}
			\mpub{getValueApproved():int}
			\mpub{setValueApproved(int,String):void}
			\mpub{getValueRequest():int}
			\mpub{getReason():String}
			\mpub{setRequest(int):void}
			\lastrow
		\end{tabular}};

	\node[classnode] (stampprofile) at (1008.6,2641.4) {\begin{tabular}{@{}p{151.6pt}@{}}
			\javaclass{StampProfile}
			\fserial{serialVersionUID: long}
			\fpub{startFrom: LocalDate}
			\fpub{endTo: LocalDate}
			\fpub{fixedWorkingTime: boolean}
			\secrule
			\mctor{StampProfile()}
			\lastrow
		\end{tabular}};

	\node[classnode] (group) at (248,3009.9) {\begin{tabular}{@{}p{107pt}@{}}
			\javaclass{Group}
			\fpub{description: String}
			\secrule
			\mctor{Group()}
			\lastrow
		\end{tabular}};

	\node[classnode] (vacationcode) at (458.4,2973.4) {\begin{tabular}{@{}p{137.8pt}@{}}
			\javaclass{VacationCode}
			\fserial{serialVersionUID: long}
			\fpub{description: String}
			\fpub{vacationDays: Integer}
			\fpub{permissionDays: Integer}
			\secrule
			\mctor{VacationCode()}
			\mpub{toString():String}
			\lastrow
		\end{tabular}};

	\node[classnode] (competencecode) at (1015.5,2973.4) {\begin{tabular}{@{}p{137pt}@{}}
			\javaclass{CompetenceCode}
			\fserial{serialVersionUID: long}
			\fpub{code: String}
			\fpub{codeToPresence: String}
			\fpub{description: String}
			\fpub{inactive: boolean}
			\secrule
			\mctor{CompetenceCode()}
			\mpub{toString():String}
			\lastrow
		\end{tabular}};

	\node[classnode] (hourovertime) at (1201.6,2641.5) {\begin{tabular}{@{}p{234.6pt}@{}}
			\javaclass{PersonHourForOvertime}
			\fpub{numberOfHourForOvertime: Integer}
			\secrule
			\mctor{PersonHourForOvertime()}
			\mctor{PersonHourForOvertime(Person,Integer)}
			\mpub{getNumberOfHourForOvertime():Integer}
			\mpub{setNumberOfHourForOvertime(Integer):void}
			\lastrow
		\end{tabular}};

	\node[classnode] (contactdata) at (1499.2,2641.5) {\begin{tabular}{@{}p{126.8pt}@{}}
			\javaclass{ContactData}
			\fserial{serialVersionUID: long}
			\fpub{telephone: String}
			\fpub{fax: String}
			\fpub{email: String}
			\fpub{mobile: String}
			\secrule
			\mctor{ContactData()}
			\mpub{toString():String}
			\lastrow
		\end{tabular}};

	\node[classnode] (initabsence) at (1756.3,2766.5) {\begin{tabular}{@{}p{140.1pt}@{}}
			\javaclass{InitializationAbsence}
			\fpub{date: LocalDate}
			\fpub{absenceDays: int}
			\fpub{recoveryDays: int}
			\secrule
			\mctor{InitializationAbsence()}
			\lastrow
		\end{tabular}};

	\node[classnode] (contract) at (2005.9,2641.5) {\begin{tabular}{@{}p{146.7pt}@{}}
			\javaclass{Contract}
			\fserial{serialVersionUID: long}
			\fpub{beginContract: LocalDate}
			\fpub{expireContract: LocalDate}
			\fpub{endContract: LocalDate}
			\fpub{onCertificate: boolean}
			\secrule
			\mctor{Contract()}
			\mpub{isValidContract():boolean}
			\mpub{toString():String}
			\lastrow
		\end{tabular}};

	\node[classnode] (personchildren) at (2195.8,2683.3) {\begin{tabular}{@{}p{121.8pt}@{}}
			\javaclass{PersonChildren}
			\fpub{name: String}
			\fpub{surname: String}
			\fpub{bornDate: LocalDate}
			\secrule
			\mctor{PersonChildren()}
			\lastrow
		\end{tabular}};

	\node[classnode] (location) at (2356.6,2681.3) {\begin{tabular}{@{}p{127.8pt}@{}}
			\javaclass{Location}
			\fserial{serialVersionUID: long}
			\fpub{department: String}
			\fpub{headOffice: String}
			\fpub{room: String}
			\secrule
			\mctor{Location()}
			\mpub{toString():String}
			\lastrow
		\end{tabular}};

	\node[classnode] (personyear) at (2522,2667.5) {\begin{tabular}{@{}p{174pt}@{}}
			\javaclass{PersonYear}
			\fpub{year: int}
			\fpub{remainingVacationDays: Integer}
			\fpub{remainingMinutes: Integer}
			\secrule
			\mctor{PersonYear()}
			\mctor{PersonYear(Person,int)}
			\mpub{refreshPersonYear():void}
			\mpub{getRemainingVacationDays():int}
			\mpub{getRemainingMinutes():int}
			\mstat{build(Person,int):PersonYear}
			\lastrow
		\end{tabular}};

	\node[classnode] (valuablecompetence) at (2718.4,2659.4) {\begin{tabular}{@{}p{143.5pt}@{}}
			\javaclass{ValuableCompetence}
			\fpub{codicecomp: String}
			\fpub{descrizione: String}
			\secrule
			\mctor{ValuableCompetence()}
			\lastrow
		\end{tabular}};

	\node[classnode] (qualification) at (2898,2627.3) {\begin{tabular}{@{}p{107.3pt}@{}}
			\javaclass{Qualification}
			\fpub{qualification: int}
			\fpub{description: String}
			\secrule
			\mctor{Qualification()}
			\lastrow
		\end{tabular}};

	\node[classnode] (absencetype) at (3072.9,2843.6) {\begin{tabular}{@{}p{254.7pt}@{}}
			\javaclass{AbsenceType}
			\fserial{serialVersionUID: long}
			\fpub{code: String}
			\fpub{certificateCode: String}
			\fpub{description: String}
			\fpub{validFrom: LocalDate}
			\fpub{validTo: LocalDate}
			\fpub{internalUse: boolean}
			\fpub{multipleUse: boolean}
			\fpub{mealTicketCalculation: boolean}
			\fpub{ignoreStamping: boolean}
			\fpub{justifiedTimeAtWork: JustifiedTimeAtWork}
			\fpub{compensatoryRest: boolean}
			\fpub{replacingAbsence: boolean}
			\secrule
			\mctor{AbsenceType()}
			\mpub{getShortDescription():String}
			\mpub{getQualification(AbsenceType):List<Qualification>}
			\lastrow
		\end{tabular}};

	\node[classnode] (absencetypegroup) at (2428.4,3011.5) {\begin{tabular}{@{}p{248.6pt}@{}}
			\javaclass{AbsenceTypeGroup}
			\fserial{serialVersionUID: long}
			\fpub{label: String}
			\fpub{minutesExcess: Boolean}
			\fpub{limitInMinute: Integer}
			\fpub{accumulationType: AccumulationType}
			\fpub{accumulationBehaviour: AccumulationBehaviour}
			\secrule
			\mctor{AbsenceTypeGroup()}
			\lastrow
		\end{tabular}};

	\node[classnode] (stampmodtype) at (3439.6,2805.4) {\begin{tabular}{@{}p{155.7pt}@{}}
			\javaclass{StampModificationType}
			\fpub{code: String}
			\fpub{description: String}
			\secrule
			\mctor{StampModificationType()}
			\lastrow
		\end{tabular}};

	% nesting marks
	\node[nestmark] (nestmod) at (1288,389) {};
	\node[nestplus] (nestred) at (1350.4,419.8) {};
	\node[nestmark] (nestsys) at (1426.4,419.8) {};
	\node[nestmark] (nesttoday) at (2797,1292) {};
	\node[nestmark] (nestwork) at (3139,1301.5) {};
	\node[nestmark] (nestway) at (3420,2192) {};
	\node[nestplus] (nestinfo) at (2875,2169.6) {};

	% auth links
	\draw[link,->] (authuser.west |- 0,368.8) -- (1220,430) -- (authmod.east |- 0,463.8);
	\draw[link] (authmod.east |- 0,475) -- (1250,430) -- (nestmod);
	\draw[link,->] (1332,413.4 -| authuser.south) -- (1328.5,432) -- (1331.5,472.7);
	\draw[link] (1343.3,472.7) -- (nestred);
	\draw[link,->] (authuser.south east) -- (1479,464.4);
	\draw[link] (authsys.north west) -- (1438,441.5) -- (nestsys);

	% configuration and reperibility links
	\draw[link,->] (configuration.west |- 0,1287) -- (webstamping.east |- 0,1276);
	\draw[link,->] (webstamping.east |- 0,1288) -- (755,1300.6) -- (configuration.west |- 0,1300.6);
	\draw[link,->] (reperibilityday.west |- 0,1539.8) -- (reperibilitytype.east |- 0,1540.5);
	\draw[link,->] (reperibilitytype.south -| 116,0) -- (92.3,2120) -- (reperibility.north -| 103.3,0);
	\draw[link,->] (reperibility.north -| 105,0) -- (reperibilitytype.south -| 118.4,0);
	\draw[link,->] (reperibilityday.south -| 326.5,0) -- (reperibility.north -| 119.4,0);

	% shift links
	\draw[link,->] (shifttimetable.south -| 576,0) -- (579.6,1704.7) -- (personshiftday.north -| 601,0);
	\draw[link,->] (personshiftday.north -| 611.2,0) -- (shifttimetable.south -| 590.8,0);
	\draw[link,->] (shifttype.east |- 0,1903) -- (507.7,1876.6) -- (personshiftday.west |- 0,1826.8);
	\draw[link,->] (personshiftday.west |- 0,1826.8) -- (shifttype.east |- 0,1895.5);
	\draw[link,->] (personshiftday.east |- 0,1831.7) -- (personshift.west |- 0,1899);
	\draw[link,->] (personshift.west |- 0,1908.8) -- (739.8,1885.7) -- (personshiftday.south east);
	\draw[link,->] (shiftshifttype.west |- 0,2019) -- (shifttype.east |- 0,1960.8);
	\draw[link,->] (shifttype.east |- 0,1974) -- (469.4,2006.4) -- (shiftshifttype.west |- 0,2031.6);
	\draw[link,->] (shiftshifttype.east |- 0,2024.6) -- (personshift.west |- 0,1959.3);
	\draw[link,->] (personshift.west |- 0,1969.9) -- (737,2012) -- (shiftshifttype.east |- 0,2036.5);
	\draw[link,->] (shifttype.south -| 366.3,0) -- (351.5,2068) -- (shiftcancelled.north -| 363.3,0);
	\draw[link,->] (shiftcancelled.north -| 368.4,0) -- (shifttype.south -| 373.5,0);
	\draw[link,->] (person.west |- 0,2023.7) -- (personshift.east |- 0,1938.5);
	\draw[link,->] (personshift.east |- 0,1943) -- (1292.8,2000.4) -- (person.west |- 0,2031);
	\draw[link,->] (person.west |- 0,1870) -- (yearrecap.east |- 0,1739);
	\draw[link,->] (yearrecap.east |- 0,1761) -- (person.west |- 0,1893);

	% person month and day links
	\draw[link,->] (initializationtime.south -| 1768.6,0) -- (person.north -| 1807.3,0);
	\draw[link,->] (personmonth.west |- 0,682.9) -- (initializationtime.east |- 0,617.6);
	\draw[link,->] (person.north -| 1890,0) -- (1896.6,1420) -- (1922.4,1145.7) -- (personmonth.west |- 0,1010);
	\draw[link,->] (personmonth.west |- 0,1176.7) -- (1925.9,1399.6) -- (person.north -| 1914,0);
	\draw[link,->] (personmonth.east |- 0,848.6) -- (personday.west |- 0,943.3);
	\draw[link,->] (personmonth.east |- 0,473) -- (2558,453) -- (3504,453) -- (3552,490) -- (3598,2625) -- (stampmodtype.north -| 3535.5,0);
	\draw[link,->] (personmonth.south -| 2512.6,0) -- (2527,1391) -- (2536.7,1385) -- (2535.5,1364.5) -- (personmonth.east |- 0,1354.7);
	\draw[link,->] (personday.west |- 0,1152) -- (person.east |- 0,1884);
	\draw[link,->] (person.east |- 0,1892) -- (2540,1416) -- (personday.west |- 0,1156);
	\draw[link,->] (person.east |- 0,1982) -- (workingtimetype.west |- 0,1895.4);
	\draw[link,->] (workingtimetypeday.north -| 2453.6,0) -- (2439.8,1998.5) -- (workingtimetype.south -| 2436,0);
	\draw[link,->] (workingtimetype.south -| 2453.6,0) -- (workingtimetypeday.north -| 2467.3,0);
	\draw[link,->] (personday.south -| 3026.8,0) -- (3031.5,1492.8) -- (absence.north -| 3068.7,0);
	\draw[link,->] (absence.north -| 3077.5,0) -- (personday.south -| 3043.7,0);
	\draw[link] (timeatworktoday.north -| 2699,0) -- (2766.5,1378) -- (nesttoday);
	\draw[link] (timeatwork.north -| 3327.7,0) -- (nestwork);
	\draw[link,->] (stamping.north -| 3500.5,0) -- (3505,1740) -- (3508,1303.8) -- (personday.east |- 0,1094.8);
	\draw[link,->] (personday.east |- 0,1161.4) -- (3484.6,1496.6) -- (3489,1700) -- (stamping.north -| 3499,0);
	\draw[link,->] (timeatwork.south -| 3366.6,0) -- (stamping.north -| 3473.7,0);

	% stamping links
	\draw[link,->] (stamping.west |- 0,2182) -- (waytype.east |- 0,2064);
	\draw[link] (waytype.east |- 0,2081.7) -- (3349,2139) -- (nestway);
	\draw[link,->] (badgereader.east |- 0,2219.5) -- (stamping.west |- 0,2235.6);
	\draw[link,->] (stamping.west |- 0,2247) -- (3356.6,2247) -- (badgereader.east |- 0,2228.7);
	\draw[link,->] (stamping.west |- 0,2297) -- (stamptype.east |- 0,2374.5);
	\draw[link,->] (stamptype.east |- 0,2386) -- (3375.7,2351.6) -- (stamping.west |- 0,2308.5);
	\draw[link,->] (stamping.south -| 3494.4,0) -- (3488,2560) -- (3491.8,2588) -- (stampmodtype.north -| 3512.5,0);
	\draw[link,->] (stampmodtype.north -| 3514,0) -- (3507,2560) -- (stamping.south -| 3502,0);
	\draw[link] (availabilityinfo.north -| 2883.7,0) -- (nestinfo);
	\draw[link,->] (availabilityinfo.south -| 2928,0) -- (absencetype.north -| 3127.3,0);
	\draw[link,->] (absence.south -| 3091,0) -- (3090.5,2641) -- (absencetype.north -| 3149.6,0);
	\draw[link,->] (qualification.south -| 2983.8,0) -- (3025.3,2815.6) -- (absencetype.west |- 0,2864.3);
	\draw[link,->] (absencetype.north west) -- (qualification.south -| 2994.6,0);
	\draw[link,->] (absencetype.west |- 0,2992) -- (initabsence.east |- 0,2840);
	\draw[link,->] (initabsence.east |- 0,2842) -- (2484.4,2932) -- (absencetype.west |- 0,2993);
	\draw[link,->] (absencetypegroup.east |- 0,3072) -- (2869.5,3031.8) -- (absencetype.west |- 0,3015.6);
	\draw[link,->] (absencetype.west |- 0,3022.5) -- (absencetypegroup.east |- 0,3079.3);
	\draw[link,->] (absencetypegroup.east |- 0,3087.4) -- (2875.7,3071) -- (absencetype.west |- 0,3031.4);

	% person right side links
	\draw[link,->] (person.south -| 1734,0) -- (1719,2690.6) -- (1777,2710) -- (initabsence.north -| 1799.4,0);
	\draw[link,->] (initabsence.north -| 1826.8,0) -- (person.south -| 1828.4,0);
	\draw[link,->] (person.east |- 0,2542) -- (contract.north -| 2042.4,0);
	\draw[link,->] (contract.north -| 2023,0) -- (1990.5,2546.6) -- (2007.5,2598);
	\draw[link,->] (person.east |- 0,2335) -- (2079,2489) -- (personchildren.north -| 2218,0);
	\draw[link,->] (personchildren.north -| 2210,0) -- (person.east |- 0,2363);
	\draw[link,->] (person.east |- 0,2256) -- (location.north -| 2355.8,0);
	\draw[link,->] (location.north -| 2353,0) -- (person.east |- 0,2275.3);
	\draw[link,->] (person.east |- 0,2207) -- (personyear.west |- 0,2689);
	\draw[link,->] (personyear.west |- 0,2696) -- (person.east |- 0,2219.5);
	\draw[link,->] (person.east |- 0,2192) -- (valuablecompetence.west |- 0,2664.7);
	\draw[link,->] (valuablecompetence.west |- 0,2668) -- (person.east |- 0,2172.6);
	\draw[link,->] (person.east |- 0,2165) -- (qualification.west |- 0,2658);
	\draw[link,->] (qualification.west |- 0,2651) -- (person.east |- 0,2148.4);

	% person left side links
	\draw[link,->] (reperibility.east |- 0,2689) -- (person.west |- 0,2111);
	\draw[link,->] (person.west |- 0,2121) -- (reperibility.east |- 0,2691);
	\draw[link,->] (permission.east |- 0,2670) -- (person.west |- 0,2116);
	\draw[link,->] (person.west |- 0,2119) -- (permission.east |- 0,2665.4);
	\draw[link,->] (person.west |- 0,2113) -- (348,2642) -- (group.north -| 306,0);
	\draw[link,->] (group.north -| 307.6,0) -- (367,2642) -- (person.west |- 0,2132.8);
	\draw[link,->] (permission.south -| 264,0) -- (262.5,2871.9) -- (group.north -| 291.6,0);
	\draw[link,->] (group.north -| 294.6,0) -- (permission.south -| 268,0);
	\draw[link,->] (vacationperiod.east |- 0,2661) -- (person.west |- 0,2133);
	\draw[link,->] (person.west |- 0,2140) -- (vacationperiod.east |- 0,2659);
	\draw[link,->] (vacationperiod.south -| 510.5,0) -- (503.6,2887) -- (vacationcode.north -| 515,0);
	\draw[link,->] (vacationcode.north -| 525,0) -- (vacationperiod.south -| 522.7,0);
	\draw[link,->] (person.west |- 0,2172) -- (competence.east |- 0,2729);
	\draw[link,->] (competence.east |- 0,2732) -- (person.west |- 0,2180);
	\draw[link,->] (competencecode.north -| 1044.6,0) -- (954,2640) -- (person.west |- 0,2161.7);
	\draw[link,->] (person.west |- 0,2168) -- (979.5,2640) -- (competencecode.north -| 1056,0);
	\draw[link,->] (competencecode.west |- 0,3001) -- (competence.east |- 0,2926);
	\draw[link,->] (competence.east |- 0,2948) -- (949,2970.7) -- (competencecode.west |- 0,3016.3);
	\draw[link,->] (person.west |- 0,2196) -- (stampprofile.east |- 0,2643);
	\draw[link,->] (stampprofile.east |- 0,2649) -- (1434.8,2421.5) -- (person.west |- 0,2208);
	\draw[link,->] (hourovertime.north -| 1368.2,0) -- (1517.3,2419.5) -- (person.west |- 0,2245.5);
	\draw[link,->] (person.west |- 0,2263.3) -- (hourovertime.north -| 1374.5,0);
	\draw[link,->] (contactdata.north -| 1588.3,0) -- (1628.3,2504.5) -- (person.west |- 0,2419.5);
	\draw[link,->] (person.west |- 0,2463) -- (contactdata.north -| 1595.8,0);

	% role labels
	\node[rolelabel] (lb1) at (1214,444) {+authmod};
	\node[rolelabel] (lb2) at (1199,463) {0..1};
	\node[rolelabel] (lb3) at (1305.5,454) {+authred};
	\node[rolelabel] (lb4) at (1341.7,454) {0..1};
	\node[rolelabel] (lb5) at (1449,446.6) {+autsys};
	\node[rolelabel] (lb6) at (1481.5,446.6) {0..1};
	\node[rolelabel] (lb7) at (761.6,1267) {+webStampingAddress};
	\node[rolelabel] (lb8) at (714,1286) {0..*};
	\node[rolelabel] (lb9) at (740,1290) {+confParameters};
	\node[rolelabel] (lb10) at (771,1309) {0..1};
	\node[rolelabel] (lb11) at (246.4,1530) {+reperibilityType};
	\node[rolelabel] (lb12) at (216.8,1549) {0..1};
	\node[rolelabel] (lb13) at (58,1614) {+personReperibilityType};
	\node[rolelabel] (lb14) at (128.6,1614) {0..1};
	\node[rolelabel] (lb15) at (60,2623.6) {+personReperibilityDays};
	\node[rolelabel] (lb16) at (45,2623.6) {+person};
	\node[rolelabel] (lb17) at (131.6,2623.6) {0..1};
	\node[rolelabel] (lb18) at (108,2623.6) {0..*};
	\node[rolelabel] (lb19) at (206.6,2676.8) {+reperibility};
	\node[rolelabel] (lb20) at (188,2695.8) {0..1};
	\node[rolelabel] (lb21) at (552,1682) {+shiftTimeTable};
	\node[rolelabel] (lb22) at (604.6,1682) {0..1};
	\node[rolelabel] (lb23) at (551.5,1733.5) {+personShiftDay};
	\node[rolelabel] (lb24) at (605.6,1733.5) {0..*};
	\node[rolelabel] (lb25) at (514.3,1831) {+personShiftDays};
	\node[rolelabel] (lb26) at (548,1850) {0..*};
	\node[rolelabel] (lb27) at (465.8,1879.4) {+shiftType};
	\node[rolelabel] (lb28) at (451,1898) {0..1};
	\node[rolelabel] (lb29) at (731.6,1839.4) {+personShiftDays};
	\node[rolelabel] (lb30) at (698,1857.6) {0..*};
	\node[rolelabel] (lb31) at (758,1883.6) {+personShift};
	\node[rolelabel] (lb32) at (778.6,1902.5) {0..1};
	\node[rolelabel] (lb33) at (465.8,1956.5) {+shiftType};
	\node[rolelabel] (lb34) at (451,1975.5) {0..1};
	\node[rolelabel] (lb35) at (461.7,2016) {+personShiftShiftTypes};
	\node[rolelabel] (lb36) at (507.7,2035) {0..*};
	\node[rolelabel] (lb37) at (758,1953.7) {+personShift};
	\node[rolelabel] (lb38) at (778.6,1972) {0..1};
	\node[rolelabel] (lb39) at (732,2021.8) {+personShiftShiftType};
	\node[rolelabel] (lb40) at (687.8,2040.7) {0..*};
	\node[rolelabel] (lb41) at (356.6,1998) {+type};
	\node[rolelabel] (lb42) at (384.7,1998) {0..1};
	\node[rolelabel] (lb43) at (321.4,2143) {+shiftCancelled};
	\node[rolelabel] (lb44) at (371,2143) {0..*};
	\node[rolelabel] (lb45) at (946.8,1929) {+personShift};
	\node[rolelabel] (lb46) at (925.4,1948) {0..1};
	\node[rolelabel] (lb47) at (1636,2018.6) {+person};
	\node[rolelabel] (lb48) at (1647,2038) {0..1};
	\node[rolelabel] (lb49) at (1580,1739) {+yearRecaps};
	\node[rolelabel] (lb50) at (1555.5,1758) {0..*};
	\node[rolelabel] (lb51) at (1636,1866.8) {+person};
	\node[rolelabel] (lb52) at (1647,1886) {0..1};
	\node[rolelabel] (lb53) at (1915.5,611) {+initializationTime};
	\node[rolelabel] (lb54) at (1882.8,630) {0..1};
	\node[rolelabel] (lb55) at (2008.5,1007.8) {+personMonths};
	\node[rolelabel] (lb56) at (2036.7,1028) {0..*};
	\node[rolelabel] (lb57) at (1784,1471.5) {+person};
	\node[rolelabel] (lb58) at (1818,1471.5) {0..1};
	\node[rolelabel] (lb59) at (1892.5,1471.5) {+person};
	\node[rolelabel] (lb60) at (1926,1471.5) {0..1};
	\node[rolelabel] (lb61) at (2782,930) {+days};
	\node[rolelabel] (lb62) at (2787.5,948.7) {0..*};
	\node[rolelabel] (lb63) at (2588,1354) {-mesePrecedenteCache};
	\node[rolelabel] (lb64) at (2546.8,1373) {0..1};
	\node[rolelabel] (lb65) at (2764.5,1151.5) {+personDays};
	\node[rolelabel] (lb66) at (2788.8,1170) {0..*};
	\node[rolelabel] (lb67) at (2039.5,1873.4) {+person};
	\node[rolelabel] (lb68) at (2028.8,1891.7) {0..1};
	\node[rolelabel] (lb69) at (2198.7,1888) {+workingTimeType};
	\node[rolelabel] (lb70) at (2234.4,1907) {0..1};
	\node[rolelabel] (lb71) at (2387.5,1958.4) {+workingTimeType};
	\node[rolelabel] (lb72) at (2447.4,1958.3) {0..1};
	\node[rolelabel] (lb73) at (2406,2018.6) {+workingTimeTypeDays};
	\node[rolelabel] (lb74) at (2477.3,2018.6) {0..*};
	\node[rolelabel] (lb75) at (3014.6,1464.5) {+personDay};
	\node[rolelabel] (lb76) at (3058,1464.5) {0..1};
	\node[rolelabel] (lb77) at (3039.7,1609) {+absences};
	\node[rolelabel] (lb78) at (3079,1609) {0..*};
	\node[rolelabel] (lb79) at (3172.9,1089.5) {+personDay};
	\node[rolelabel] (lb80) at (3153.3,1107.8) {0..1};
	\node[rolelabel] (lb81) at (3408,2133.4) {\textasciitilde lastNotPairedInStamping};
	\node[rolelabel] (lb82) at (3467.6,2133.4) {+stampings};
	\node[rolelabel] (lb83) at (3483,2133.4) {0..1};
	\node[rolelabel] (lb84) at (3508,2133.4) {0..*};
	\node[rolelabel] (lb85) at (3310,2062.8) {+way};
	\node[rolelabel] (lb86) at (3306,2081.7) {0..1};
	\node[rolelabel] (lb87) at (3335,2220) {+badgeReader};
	\node[rolelabel] (lb88) at (3306,2239.6) {0..1};
	\node[rolelabel] (lb89) at (3389.5,2224.7) {+stampings};
	\node[rolelabel] (lb90) at (3408.6,2243) {0..*};
	\node[rolelabel] (lb91) at (3388.7,2305.6) {+stampings};
	\node[rolelabel] (lb92) at (3407.9,2324.6) {0..*};
	\node[rolelabel] (lb93) at (3341.3,2358.4) {+stampType};
	\node[rolelabel] (lb94) at (3322,2377.4) {0..1};
	\node[rolelabel] (lb95) at (3471,2362.5) {+stampings};
	\node[rolelabel] (lb96) at (3513.5,2362.5) {0..*};
	\node[rolelabel] (lb97) at (3451,2787) {+stampModificationType};
	\node[rolelabel] (lb98) at (3520,2787) {0..1};
	\node[rolelabel] (lb99) at (3490,2787) {+stampingCodeList};
	\node[rolelabel] (lb100) at (3549,2787) {0..*};
	\node[rolelabel] (lb101) at (3110,2825.7) {+absenceType};
	\node[rolelabel] (lb102) at (3118,2825.7) {+absenceType};
	\node[rolelabel] (lb103) at (3158,2825.7) {0..1};
	\node[rolelabel] (lb104) at (2964,2754.3) {+qualifications};
	\node[rolelabel] (lb105) at (3011.5,2754.3) {0..*};
	\node[rolelabel] (lb106) at (3023.8,2844.8) {+absenceTypes};
	\node[rolelabel] (lb107) at (3053,2863.5) {0..*};
	\node[rolelabel] (lb108) at (1960,2831.4) {+initializationAbsences};
	\node[rolelabel] (lb109) at (1915.5,2850.5) {0..*};
	\node[rolelabel] (lb110) at (3026,2980) {+absenceType};
	\node[rolelabel] (lb111) at (3052,2998) {0..1};
	\node[rolelabel] (lb112) at (3023.8,3006.7) {+absenceTypes};
	\node[rolelabel] (lb113) at (3004.6,3023.7) {+replacingAbsenceType};
	\node[rolelabel] (lb114) at (3052,3024.5) {0..*};
	\node[rolelabel] (lb115) at (3052,3042) {0..1};
	\node[rolelabel] (lb116) at (2736.8,3068.3) {+absenceTypeGroup};
	\node[rolelabel] (lb117) at (2696,3087.4) {0..1};
	\node[rolelabel] (lb118) at (1805,2618.4) {+person};
	\node[rolelabel] (lb119) at (1840,2618.4) {0..1};
	\node[rolelabel] (lb120) at (1738,2749.4) {+initializationAbsences};
	\node[rolelabel] (lb121) at (1804,2749.4) {0..*};
	\node[rolelabel] (lb122) at (1991,2618.8) {+person};
	\node[rolelabel] (lb123) at (2021.6,2618.8) {0..1};
	\node[rolelabel] (lb124) at (2013,2623) {+contracts};
	\node[rolelabel] (lb125) at (2049,2623) {0..*};
	\node[rolelabel] (lb126) at (2039.5,2144) {+person};
	\node[rolelabel] (lb127) at (2027.8,2161.6) {0..*};
	\node[rolelabel] (lb128) at (2039.5,2169.7) {+person};
	\node[rolelabel] (lb129) at (2027.8,2188) {0..1};
	\node[rolelabel] (lb130) at (2039.5,2219.5) {+person};
	\node[rolelabel] (lb131) at (2027.8,2238.6) {0..1};
	\node[rolelabel] (lb132) at (2039.5,2275.3) {+person};
	\node[rolelabel] (lb133) at (2027.8,2294) {0..1};
	\node[rolelabel] (lb134) at (2039.5,2362.6) {+person};
	\node[rolelabel] (lb135) at (2027.8,2381.6) {0..1};
	\node[rolelabel] (lb136) at (2169,2665.5) {+personChildren};
	\node[rolelabel] (lb137) at (2223,2665.5) {0..*};
	\node[rolelabel] (lb138) at (2324,2662.6) {+location};
	\node[rolelabel] (lb139) at (2336,2681) {0..1};
	\node[rolelabel] (lb140) at (2476.7,2668.7) {+personYears};
	\node[rolelabel] (lb141) at (2501,2687.8) {0..*};
	\node[rolelabel] (lb142) at (2652.4,2645.6) {+valuableCompetences};
	\node[rolelabel] (lb143) at (2699,2664) {0..*};
	\node[rolelabel] (lb144) at (2855,2634) {+qualification};
	\node[rolelabel] (lb145) at (2877,2653) {0..1};
	\node[rolelabel] (lb146) at (970.4,2712.5) {+competences};
	\node[rolelabel] (lb147) at (943.6,2731.2) {0..*};
	\node[rolelabel] (lb148) at (1006,2955.5) {+competenceCode};
	\node[rolelabel] (lb149) at (1062,2955.5) {0..*};
	\node[rolelabel] (lb150) at (968,2925) {+competence};
	\node[rolelabel] (lb151) at (944.4,2943.3) {0..*};
	\node[rolelabel] (lb152) at (959,2998.5) {+competenceCode};
	\node[rolelabel] (lb153) at (994.9,3017.5) {0..1};
	\node[rolelabel] (lb154) at (480.6,2818.6) {+vacationPeriod};
	\node[rolelabel] (lb155) at (532.6,2818.6) {0..*};
	\node[rolelabel] (lb156) at (473.7,2955.5) {+vacationCode};
	\node[rolelabel] (lb157) at (525,2955.5) {0..1};
	\node[rolelabel] (lb158) at (688.8,2642.6) {+vacationPeriod};
	\node[rolelabel] (lb159) at (660.4,2661.6) {0..1};
	\node[rolelabel] (lb160) at (359.7,2649.4) {+permissions};
	\node[rolelabel] (lb161) at (337.5,2668.4) {0..*};
	\node[rolelabel] (lb162) at (235.7,2751) {+permissions};
	\node[rolelabel] (lb163) at (279.3,2751) {0..*};
	\node[rolelabel] (lb164) at (265.6,2991.6) {+groups};
	\node[rolelabel] (lb165) at (284.7,2991.6) {+groups};
	\node[rolelabel] (lb166) at (298.5,2991.6) {0..*};
	\node[rolelabel] (lb167) at (317.6,2991.6) {0..*};
	\node[rolelabel] (lb168) at (1207.3,2624.3) {+stampProfiles};
	\node[rolelabel] (lb169) at (1180,2643) {0..*};
	\node[rolelabel] (lb170) at (1316.4,2623) {+personHourForOvertime};
	\node[rolelabel] (lb171) at (1393,2623) {0..1};
	\node[rolelabel] (lb172) at (1564,2623) {+contactData};
	\node[rolelabel] (lb173) at (1611,2623) {0..1};
	\node[rolelabel] (lb174) at (1637,2104.3) {+person};
	\node[rolelabel] (lb175) at (1634.6,2108.7) {+persons};
	\node[rolelabel] (lb176) at (1640,2111.9) {+users};
	\node[rolelabel] (lb177) at (1646.8,2123) {0..1};
	\node[rolelabel] (lb178) at (1637,2131.6) {+person};
	\node[rolelabel] (lb179) at (1646.8,2131) {0..*};
	\node[rolelabel] (lb180) at (1646.8,2150) {0..1};
	\node[rolelabel] (lb181) at (1634.6,2159.3) {+persons};
	\node[rolelabel] (lb182) at (1637,2176.7) {+person};
	\node[rolelabel] (lb183) at (1646.8,2178) {0..*};
	\node[rolelabel] (lb184) at (1646.8,2195.3) {0..1};
	\node[rolelabel] (lb185) at (1637,2205.6) {+person};
	\node[rolelabel] (lb186) at (1646.8,2223.8) {0..1};
	\node[rolelabel] (lb187) at (1637,2244.7) {+person};
	\node[rolelabel] (lb188) at (1646.8,2263.3) {0..1};
	\node[rolelabel] (lb189) at (1637,2419.5) {+person};
	\node[rolelabel] (lb190) at (1646.8,2438) {0..1};
\end{tikzpicture}
\end{document}
